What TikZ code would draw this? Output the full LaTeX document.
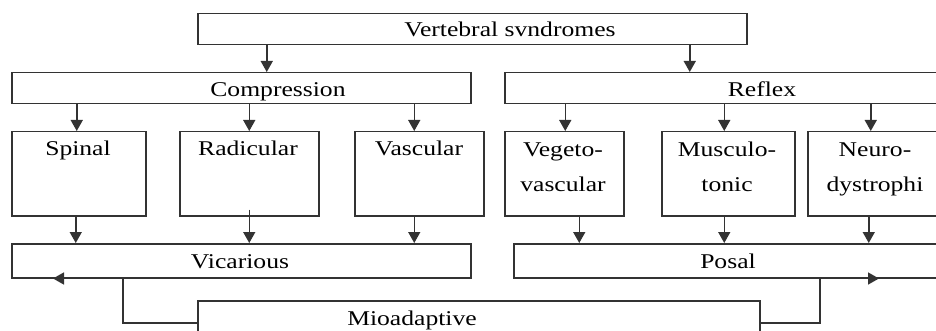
\documentclass[tikz,border=0pt]{standalone}
\usepackage{fontspec}
\setmainfont{Liberation Serif}[FakeStretch=1.22]
\usetikzlibrary{arrows.meta}

\begin{document}
\begin{tikzpicture}
[x=1pt,y=-1pt,%
  box/.style={draw=black!80,line width=1.5pt,rectangle,inner sep=0pt,anchor=north west},%
  txt/.style={inner sep=0pt,anchor=base,align=center,font=\fontsize{21}{35}\selectfont},%
  arr/.style={draw=black!80,line width=1.5pt,-{Triangle[length=11pt,width=12pt]}}]
\useasboundingbox (0,0) rectangle (936,331);
% boxes
\node[box,minimum width=549pt,minimum height=31pt] (top) at (197,13) {};
\node[box,minimum width=459pt,minimum height=31pt] (comp) at (11,72) {};
\node[box,minimum width=450pt,minimum height=31pt] (refl) at (504,72) {};
\node[box,minimum width=134pt,minimum height=84pt] (spinal) at (11,131) {};
\node[box,minimum width=139pt,minimum height=84pt] (radic) at (179,131) {};
\node[box,minimum width=129pt,minimum height=84pt] (vasc) at (354,131) {};
\node[box,minimum width=119pt,minimum height=84pt] (veget) at (504,131) {};
\node[box,minimum width=133pt,minimum height=84pt] (muscl) at (661,131) {};
\node[box,minimum width=140pt,minimum height=84pt] (neuro) at (807,131) {};
\node[box,minimum width=459pt,minimum height=34pt] (vic) at (11,243) {};
\node[box,minimum width=440pt,minimum height=34pt] (posal) at (513,243) {};
\node[box,minimum width=562pt,minimum height=44pt] (mio) at (197,300) {};
% texts
\node[txt] (t-top) at (510,37) {Vertebral svndromes};
\node[txt] (t-comp) at (278,97) {Compression};
\node[txt] (t-refl) at (762,97) {Reflex};
\node[txt] (t-spin) at (78,156) {Spinal};
\node[txt] (t-rad) at (248,156) {Radicular};
\node[txt] (t-vasc) at (419,156) {Vascular};
\node[txt] (t-veg) at (563,191) {Vegeto-\\vascular};
\node[txt] (t-mus) at (727,191) {Musculo-\\tonic};
\node[txt] (t-neu) at (875,191) {Neuro-\\dystrophi};
\node[txt] (t-vic) at (240,268) {Vicarious};
\node[txt] (t-pos) at (728,268) {Posal};
\node[txt] (t-mio) at (412,325) {Mioadaptive};
% arrows
\draw[arr] ([xshift=-205.5pt]top.south) -- ([xshift=-205.5pt]top.south |- comp.north);
\draw[arr] ([xshift=217.5pt]top.south) -- ([xshift=217.5pt]top.south |- refl.north);
\foreach \b/\s in {spinal/-2,radic/0,vasc/-5}
  \draw[arr] ([xshift=\s pt]\b.north |- comp.south) -- ([xshift=\s pt]\b.north);
\foreach \b/\s in {veget/1,muscl/-4,neuro/-7}
  \draw[arr] ([xshift=\s pt]\b.north |- refl.south) -- ([xshift=\s pt]\b.north);
\draw[arr] ([xshift=-3pt]spinal.south) -- ([xshift=-3pt]spinal.south |- vic.north);
\draw[arr] ([yshift=7pt]radic.south) -- (radic.south |- vic.north);
\draw[arr] ([xshift=-5pt]vasc.south) -- ([xshift=-5pt]vasc.south |- vic.north);
\foreach \b/\s in {veget/15,muscl/-4,neuro/-9}
  \draw[arr] ([xshift=\s pt]\b.south) -- ([xshift=\s pt]\b.south |- posal.north);
% back to the lower boxes
\draw[arr] (mio.west) -| ([xshift=112pt]vic.south west) -- ([xshift=42pt]vic.south west);
\draw[arr] (mio.east) -| ([xshift=307pt]posal.south west) -- ([xshift=366pt]posal.south west);
\end{tikzpicture}
\end{document}
